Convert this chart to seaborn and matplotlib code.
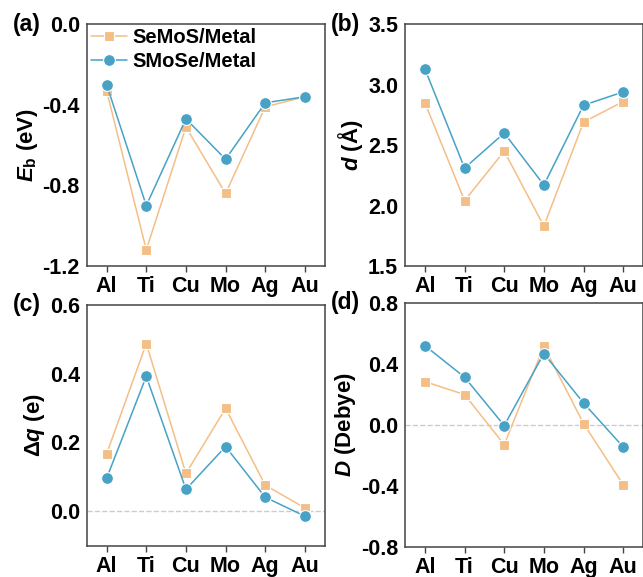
import matplotlib
matplotlib.use("Agg")
import matplotlib.pyplot as plt
import seaborn as sns
import pandas as pd

metals = ["Al", "Ti", "Cu", "Mo", "Ag", "Au"]
series = ["SeMoS/Metal", "SMoSe/Metal"]

eb_semos = [-0.33, -1.12, -0.51, -0.84, -0.41, -0.36]
eb_smose = [-0.30, -0.90, -0.47, -0.67, -0.39, -0.36]
d_semos = [2.85, 2.04, 2.45, 1.83, 2.69, 2.86]
d_smose = [3.13, 2.31, 2.60, 2.17, 2.83, 2.94]
dq_semos = [0.167, 0.487, 0.110, 0.299, 0.076, 0.010]
dq_smose = [0.096, 0.392, 0.064, 0.188, 0.041, -0.014]
dip_semos = [0.284, 0.199, -0.129, 0.516, 0.009, -0.391]
dip_smose = [0.520, 0.313, -0.004, 0.468, 0.144, -0.144]

sns.set_theme(style="white")
plt.rcParams["font.family"] = ["Liberation Sans", "DejaVu Sans"]
plt.rcParams["font.weight"] = "bold"
plt.rcParams["mathtext.fontset"] = "custom"
plt.rcParams["mathtext.it"] = "Liberation Sans:italic:bold"
plt.rcParams["mathtext.rm"] = "Liberation Sans:bold"
plt.rcParams["mathtext.bf"] = "Liberation Sans:bold"
plt.rcParams["text.color"] = "black"
plt.rcParams["axes.labelcolor"] = "black"
plt.rcParams["xtick.color"] = "black"
plt.rcParams["ytick.color"] = "black"

orange = "#F4BF86"
blue = "#47A2C6"
colors = {series[0]: orange, series[1]: blue}
markers = {series[0]: "s", series[1]: "o"}

fig = plt.figure(figsize=(6.43, 5.77), dpi=100)
w, h = 0.370, 0.419
positions = [
    (0.135, 0.539, w, h),
    (0.630, 0.539, w, h),
    (0.135, 0.054, w, 0.418),
    (0.630, 0.052, w, 0.423),
]
panels = [
    (eb_semos, eb_smose, (-1.2, 0.0), [-1.2, -0.8, -0.4, 0.0], r"$\mathit{E}_\mathrm{b}$ (eV)", "(a)", False),
    (d_semos, d_smose, (1.5, 3.5), [1.5, 2.0, 2.5, 3.0, 3.5], r"$\mathit{d}$ (Å)", "(b)", False),
    (dq_semos, dq_smose, (-0.1, 0.6), [0.0, 0.2, 0.4, 0.6], r"$\mathit{Δq}$ (e)", "(c)", True),
    (dip_semos, dip_smose, (-0.8, 0.8), [-0.8, -0.4, 0.0, 0.4, 0.8], r"$\mathit{D}$ (Debye)", "(d)", True),
]

for i, (pos, (a, b, ylim, yt, ylab, plab, zline)) in enumerate(zip(positions, panels)):
    ax = fig.add_axes(pos)
    df = pd.DataFrame({
        "metal": metals * 2,
        "val": list(a) + list(b),
        "series": [series[0]] * 6 + [series[1]] * 6,
    })
    if zline:
        ax.axhline(0, color="#CCCCCC", lw=1.0, ls="--", zorder=0)
    for s in series:
        sub = df[df["series"] == s]
        sns.lineplot(data=sub, x="metal", y="val", ax=ax, color=colors[s],
                     marker=markers[s], markersize=8.5 if s == series[1] else 7.5,
                     markeredgecolor="white", markeredgewidth=0.8, lw=1.1,
                     sort=False, label=s if i == 0 else None, legend=False)
    ax.set_xlim(-0.5, 5.5)
    ax.set_ylim(*ylim)
    ax.set_yticks(yt)
    ax.set_yticklabels(["{:.1f}".format(v) if abs(v) > 1e-9 else "0.0" for v in yt])
    ax.set_xticks(range(6))
    ax.set_xticklabels(metals)
    ax.set_xlabel("")
    ax.set_ylabel(ylab, fontsize=16, fontweight="bold", labelpad=2)
    ax.tick_params(axis="x", length=4, width=1.0, color="#444444", labelcolor="black",
                   labelsize=15.5, pad=3, direction="out", bottom=True)
    ax.tick_params(axis="y", length=0, labelsize=15.5, pad=5, labelcolor="black")
    for lab in ax.get_xticklabels() + ax.get_yticklabels():
        lab.set_fontweight("bold")
    for sp in ax.spines.values():
        sp.set_color("#444444")
        sp.set_linewidth(1.1)
    ax.text(-0.31, 1.0, plab, transform=ax.transAxes, fontsize=16.5, fontweight="bold",
            va="center", ha="left", color="black")
    if i == 0:
        leg = ax.legend(loc="upper left", bbox_to_anchor=(0.0, 1.0), frameon=False,
                        handlelength=1.8, handletextpad=0.25, borderaxespad=0.0, labelspacing=0.25,
                        borderpad=0.2, prop={"weight": "bold", "size": 14.5})
        for t in leg.get_texts():
            t.set_color("black")

fig.savefig("out.png", dpi=100)
